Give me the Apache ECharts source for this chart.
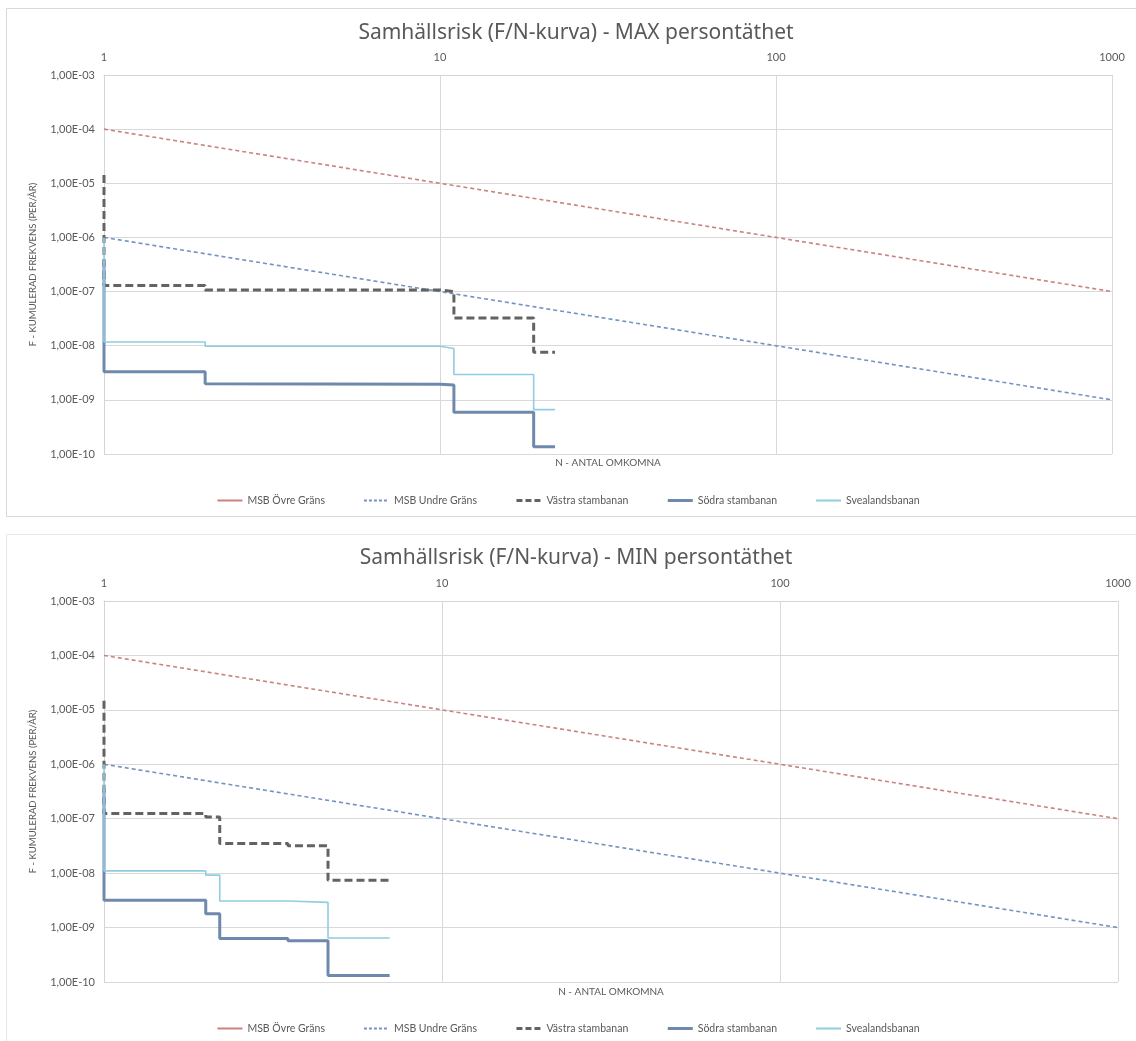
<!DOCTYPE html>
<html>
<head>
<meta charset="utf-8">
<script src="https://cdn.jsdelivr.net/npm/echarts@6/dist/echarts.min.js"></script>
<style>
html,body{margin:0;padding:0;background:#fff;overflow:hidden;}
#chart{width:1136px;height:1041px;}
</style>
</head>
<body>
<div id="chart"></div>
<script>
// ---- Data ----
const titles = ['Samhällsrisk (F/N-kurva) - MAX persontäthet', 'Samhällsrisk (F/N-kurva) - MIN persontäthet'];
const seriesNames = ['MSB Övre Gräns', 'MSB Undre Gräns', 'Västra stambanan', 'Södra stambanan', 'Svealandsbanan'];
const xTickLabels = ['1', '10', '100', '1000'];
const yTickLabels = ['1,00E-10', '1,00E-09', '1,00E-08', '1,00E-07', '1,00E-06', '1,00E-05', '1,00E-04', '1,00E-03'];
const yAxisName = 'F - KUMULERAD FREKVENS (PER/ÅR)';
const xAxisName = 'N - ANTAL OMKOMNA';

// MSB criteria lines
const msbN = [1, 1000];
const msbOvreF = [1e-4, 1e-7];
const msbUndreF = [1e-6, 1e-9];

// MAX persontäthet
const maxVastraN = [1, 1, 2, 2, 10, 11, 11, 19, 19, 22];
const maxVastraF = [1.43e-5, 1.29e-7, 1.29e-7, 1.07e-7, 1.07e-7, 1.0e-7, 3.26e-8, 3.26e-8, 7.6e-9, 7.6e-9];
const maxSodraN = [1, 1, 2, 2, 10, 11, 11, 19, 19, 22];
const maxSodraF = [3.8e-7, 3.3e-9, 3.3e-9, 1.98e-9, 1.95e-9, 1.88e-9, 5.9e-10, 5.9e-10, 1.36e-10, 1.36e-10];
const maxSvealN = [1, 1, 2, 2, 10, 11, 11, 19, 19, 22];
const maxSvealF = [1.0e-6, 1.17e-8, 1.17e-8, 9.8e-9, 9.8e-9, 8.9e-9, 2.94e-9, 2.94e-9, 6.6e-10, 6.6e-10];

// MIN persontäthet
const minVastraN = [1, 1, 2, 2, 2.2, 2.2, 3.5, 3.5, 4.6, 4.6, 7];
const minVastraF = [1.47e-5, 1.25e-7, 1.25e-7, 1.08e-7, 1.08e-7, 3.5e-8, 3.5e-8, 3.18e-8, 3.18e-8, 7.4e-9, 7.4e-9];
const minSodraN = [1, 1, 2, 2, 2.2, 2.2, 3.5, 3.5, 4.6, 4.6, 7];
const minSodraF = [3.6e-7, 3.18e-9, 3.18e-9, 1.8e-9, 1.8e-9, 6.3e-10, 6.3e-10, 5.7e-10, 5.7e-10, 1.31e-10, 1.31e-10];
const minSvealN = [1, 1, 2, 2, 2.2, 2.2, 3.5, 3.5, 4.6, 4.6, 7];
const minSvealF = [1.0e-6, 1.1e-8, 1.1e-8, 9.2e-9, 9.2e-9, 3.08e-9, 3.08e-9, 2.9e-9, 2.9e-9, 6.45e-10, 6.45e-10];

// ---- Build ----
const zip = (a, b) => a.map((v, i) => [v, b[i]]);
const txt = '#595959';
const fontFam = 'Lato, "Open Sans", sans-serif';
const colors = {
  ovre: '#c98381', undre: '#7393c1', vastra: '#636363', sodra: '#6f89ae', sveal: '#90cde0'
};

const grids = [
  {left: 104, top: 75, right: 24, height: 379},
  {left: 104, top: 601, right: 18, height: 381}
];

function yLabel(v) {
  const e = Math.round(Math.log10(v));
  return yTickLabels[e + 10] || '';
}
function xLabel(v) {
  const e = Math.round(Math.log10(v));
  return xTickLabels[e] || '';
}

const xAxes = grids.map((g, i) => ({
  type: 'log', logBase: 10, gridIndex: i, position: 'top', min: 1, max: 1000,
  axisLine: {show: true, lineStyle: {color: '#d4d4d4'}},
  axisTick: {show: false},
  axisLabel: {color: txt, fontSize: 11, fontFamily: fontFam, margin: 12, formatter: xLabel},
  splitLine: {show: true, lineStyle: {color: '#d9d9d9', width: 1}},
  minorTick: {show: false}, minorSplitLine: {show: false}
}));
const yAxes = grids.map((g, i) => ({
  type: 'log', logBase: 10, gridIndex: i, min: 1e-10, max: 1e-3, interval: 1,
  name: yAxisName, nameLocation: 'middle', nameGap: 66, nameRotate: 90,
  nameTextStyle: {color: txt, fontSize: 9.5, fontFamily: fontFam},
  axisLine: {show: true, lineStyle: {color: '#d4d4d4'}},
  axisTick: {show: false},
  axisLabel: {color: txt, fontSize: 11, fontFamily: fontFam, margin: 9, formatter: yLabel},
  splitLine: {show: true, lineStyle: {color: '#d9d9d9', width: 1}}
}));

function mkSeries(idx, vN, vF, sN, sF, eN, eF) {
  const base = {type: 'line', xAxisIndex: idx, yAxisIndex: idx, symbol: 'none', showSymbol: false, animation: false, silent: true};
  return [
    Object.assign({}, base, {name: seriesNames[0], data: zip(msbN, msbOvreF), lineStyle: {color: colors.ovre, width: 1.6, type: [4, 3]}, itemStyle: {color: colors.ovre}}),
    Object.assign({}, base, {name: seriesNames[1], data: zip(msbN, msbUndreF), lineStyle: {color: colors.undre, width: 1.6, type: [4, 3]}, itemStyle: {color: colors.undre}}),
    Object.assign({}, base, {name: seriesNames[2], data: zip(vN, vF), lineStyle: {color: colors.vastra, width: 3, type: [8, 4]}, itemStyle: {color: colors.vastra}}),
    Object.assign({}, base, {name: seriesNames[3], data: zip(sN, sF), lineStyle: {color: colors.sodra, width: 3}, itemStyle: {color: colors.sodra}}),
    Object.assign({}, base, {name: seriesNames[4], data: zip(eN, eF), lineStyle: {color: colors.sveal, width: 1.6}, itemStyle: {color: colors.sveal}})
  ];
}

const series = [].concat(
  mkSeries(0, maxVastraN, maxVastraF, maxSodraN, maxSodraF, maxSvealN, maxSvealF),
  mkSeries(1, minVastraN, minVastraF, minSodraN, minSodraF, minSvealN, minSvealF)
);

const legendData = [
  {name: seriesNames[0], lineStyle: {type: 'solid', width: 2}},
  {name: seriesNames[1], lineStyle: {type: [3, 2], width: 2}},
  {name: seriesNames[2], lineStyle: {type: [6, 3], width: 3}},
  {name: seriesNames[3], lineStyle: {type: 'solid', width: 3}},
  {name: seriesNames[4], lineStyle: {type: 'solid', width: 2}}
];

const legendBase = {
  data: legendData, left: 'center', itemWidth: 25, itemHeight: 8, itemGap: 38,
  itemStyle: {opacity: 0},
  textStyle: {color: txt, fontSize: 10.5, fontFamily: fontFam}, selectedMode: false
};

const option = {
  backgroundColor: '#fff',
  animation: false,
  grid: grids,
  xAxis: xAxes,
  yAxis: yAxes,
  legend: [
    Object.assign({}, legendBase, {top: 490}),
    Object.assign({}, legendBase, {top: 1018})
  ],
  graphic: [
    {type: 'rect', shape: {x: 6.5, y: 8.5, width: 1150, height: 508}, style: {fill: 'none', stroke: '#d9d9d9', lineWidth: 1}, silent: true},
    {type: 'rect', shape: {x: 6.5, y: 534.5, width: 1150, height: 520}, style: {fill: 'none', stroke: '#e6e6e6', lineWidth: 1}, silent: true},
    {type: 'text', x: 576, y: 33, style: {text: titles[0], fill: txt, fontSize: 21, fontFamily: '"Noto Sans", sans-serif', textAlign: 'center', textVerticalAlign: 'middle'}},
    {type: 'text', x: 576, y: 558, style: {text: titles[1], fill: txt, fontSize: 21, fontFamily: '"Noto Sans", sans-serif', textAlign: 'center', textVerticalAlign: 'middle'}},
    {type: 'text', x: 608, y: 463, style: {text: xAxisName, fill: txt, fontSize: 10, fontFamily: fontFam, textAlign: 'center', textVerticalAlign: 'middle'}},
    {type: 'text', x: 611, y: 992, style: {text: xAxisName, fill: txt, fontSize: 10, fontFamily: fontFam, textAlign: 'center', textVerticalAlign: 'middle'}}
  ],
  series: series
};

const chart = echarts.init(document.getElementById('chart'), null, {renderer: 'canvas'});
chart.setOption(option);
</script>
</body>
</html>
